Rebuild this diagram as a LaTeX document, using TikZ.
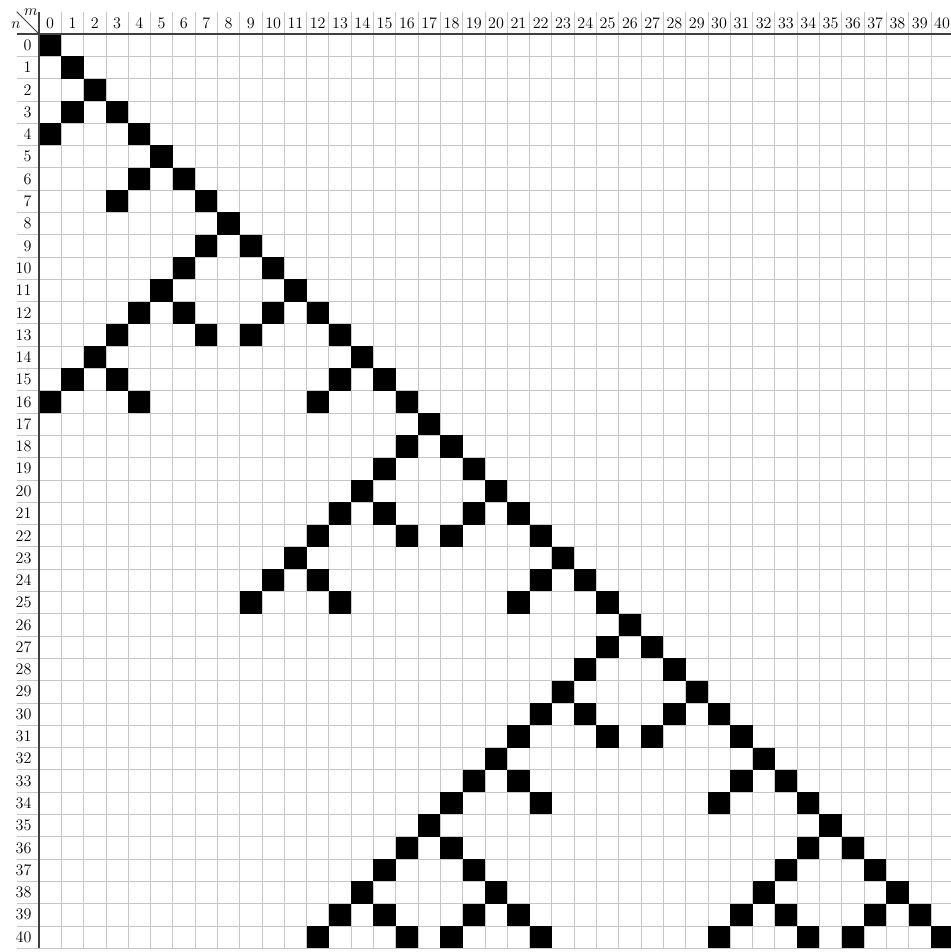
\documentclass[tikz,border=0pt]{standalone}
\begin{document}
\begin{tikzpicture}[x=0.6cm,y=-0.6cm,
  gridline/.style={black!22, line width=0.6pt},
  axisline/.style={black!75, line width=0.9pt},
  cellfill/.style={fill=black},
  lab/.style={inner sep=0pt, font=\fontsize{12.3}{14}\selectfont}]
\useasboundingbox (-1.749,-1.525) rectangle (40.897,41.17);
% light grid
\foreach \i in {1,...,41} \draw[gridline] (-1,\i) -- (41,\i);
\foreach \j in {1,...,41} \draw[gridline] (\j,-1) -- (\j,41);
% black cells (row/column)
\foreach \r/\c in {0/0,1/1,2/2,3/1,3/3,4/0,4/4,5/5,6/4,6/6,7/3,7/7,8/8,9/7,9/9,
  10/6,10/10,11/5,11/11,12/4,12/6,12/10,12/12,13/3,13/7,13/9,13/13,14/2,14/14,
  15/1,15/3,15/13,15/15,16/0,16/4,16/12,16/16,17/17,18/16,18/18,19/15,19/19,
  20/14,20/20,21/13,21/15,21/19,21/21,22/12,22/16,22/18,22/22,23/11,23/23,
  24/10,24/12,24/22,24/24,25/9,25/13,25/21,25/25,26/26,27/25,27/27,28/24,28/28,
  29/23,29/29,30/22,30/24,30/28,30/30,31/21,31/25,31/27,31/31,32/20,32/32,
  33/19,33/21,33/31,33/33,34/18,34/22,34/30,34/34,35/17,35/35,36/16,36/18,36/34,36/36,
  37/15,37/19,37/33,37/37,38/14,38/20,38/32,38/38,
  39/13,39/15,39/19,39/21,39/31,39/33,39/37,39/39,
  40/12,40/16,40/18,40/22,40/30,40/34,40/36,40/40}
  \fill[cellfill] (\c,\r) rectangle ++(1,1);
% axes and corner
\draw[axisline] (-1,0) -- (41,0);
\draw[axisline] (0,-1) -- (0,41);
\coordinate (cornerA) at (-1,-1);
\coordinate (cornerB) at (0,0);
\draw[axisline, line width=0.6pt] (cornerA) -- (cornerB);
\node[lab] (mlab) at (-0.37,-1.0) {$m$};
\node[lab] (nlab) at (-1.03,-0.40) {$n$};
% labels
\foreach \c in {0,...,40} \node[lab] (col\c) at (\c+0.5,-0.5) {\c};
\foreach \r in {0,...,40} \node[lab, anchor=east] (row\r) at (-0.33,\r+0.5) {\r};
\end{tikzpicture}
\end{document}
